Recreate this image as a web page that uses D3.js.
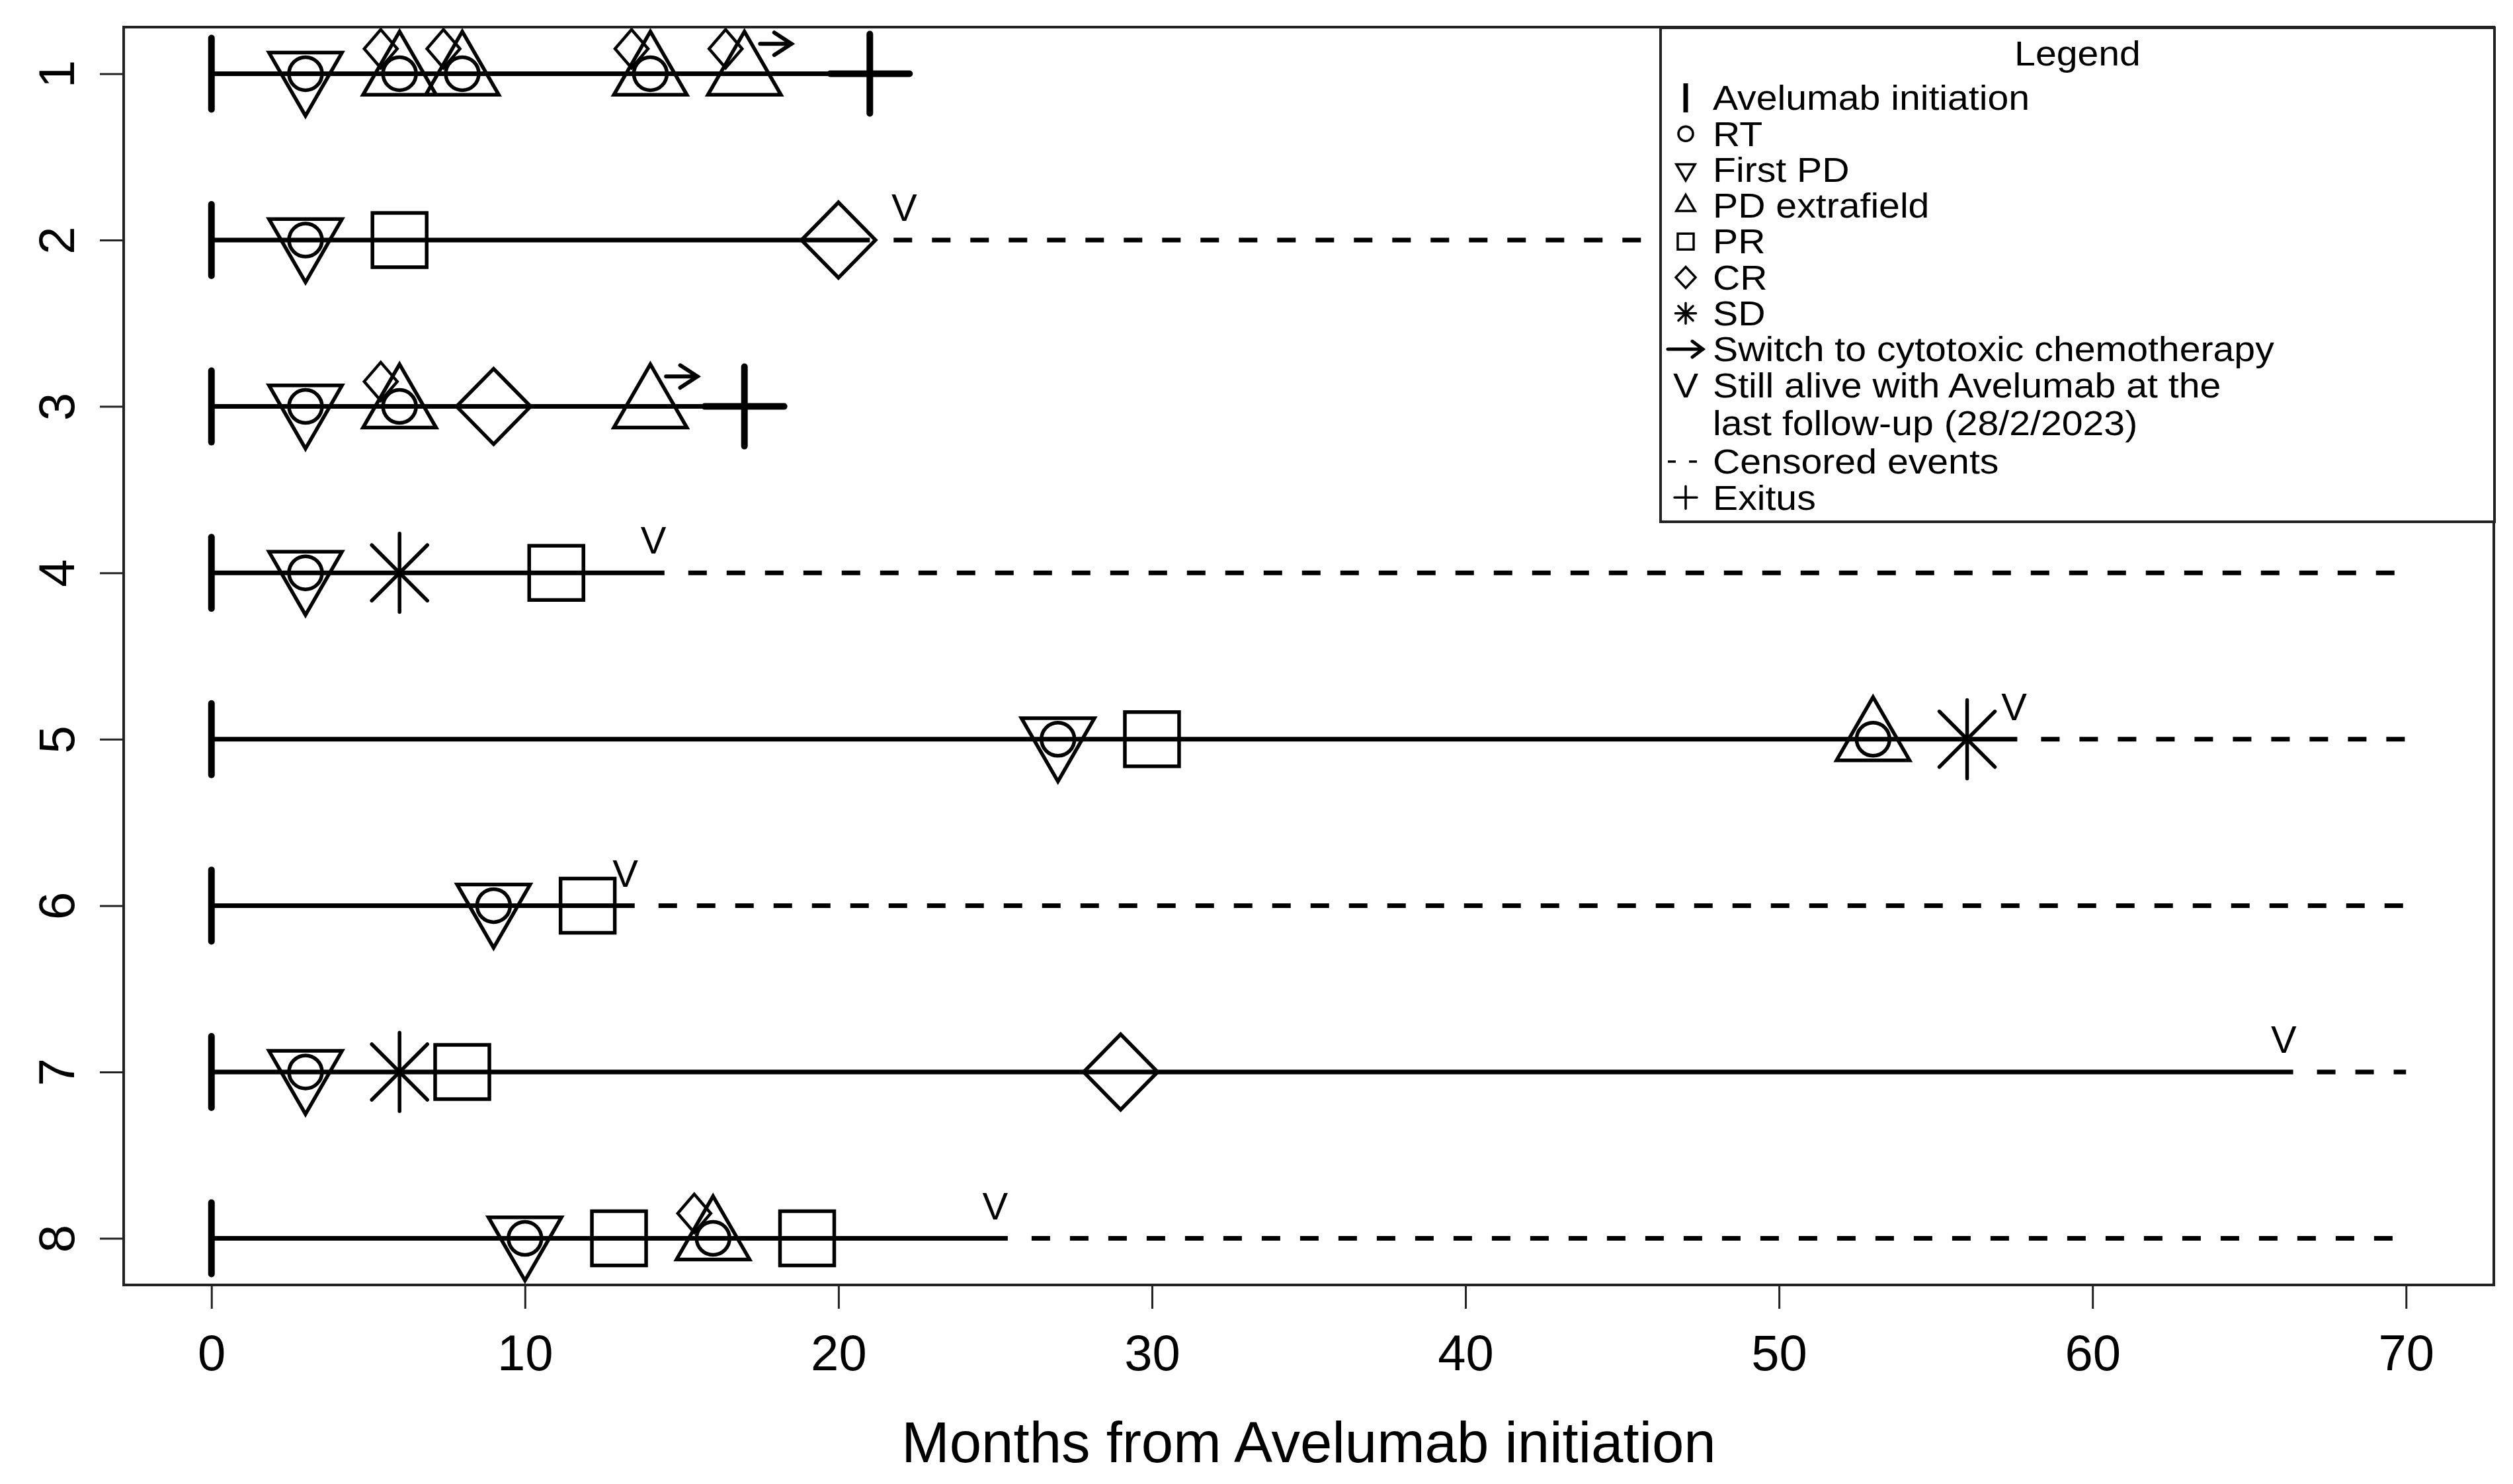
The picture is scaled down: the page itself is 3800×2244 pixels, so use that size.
<!DOCTYPE html>
<html>
<head>
<meta charset="utf-8">
<script src="https://cdn.jsdelivr.net/npm/d3@7"></script>
<style>
  body { margin: 0; background: #fff; }
  svg { display: block; }
  text { font-family: "Liberation Sans", Arial, Helvetica, sans-serif; fill: #000; }
</style>
</head>
<body>
<div id="chart"></div>
<script>
// ---- data (months from Avelumab initiation) ----
const patients = [1, 2, 3, 4, 5, 6, 7, 8];
const xTicks = [0, 10, 20, 30, 40, 50, 60, 70];
const solidEnd = [21, 21, 17, 14.45, 57.6, 13.5, 66.4, 25.4];
const censoredTo = [null, 70, null, 70, 70, 70, 70, 70];

// [patient, month]
const rtEvents = [[1, 3], [1, 6], [1, 8], [1, 14], [2, 3], [3, 3], [3, 6], [4, 3],
                  [5, 27], [5, 53], [6, 9], [7, 3], [8, 10], [8, 16]];
const firstPD = [[1, 3], [2, 3], [3, 3], [4, 3], [5, 27], [6, 9], [7, 3], [8, 10]];
const pdExtrafield = [[1, 6], [1, 8], [1, 14], [1, 17], [3, 6], [3, 14], [5, 53], [8, 16]];
const prEvents = [[2, 6], [4, 11], [5, 30], [6, 12], [7, 8], [8, 13], [8, 19]];
const crEvents = [[2, 20], [3, 9], [7, 29]];
const crSmall = [[1, 5.4], [1, 7.4], [1, 13.4], [1, 16.4], [3, 5.4], [8, 15.4]];
const sdEvents = [[4, 6], [5, 56], [7, 6]];
const switchChemo = [[1, 17.5], [3, 14.5]];
const exitus = [[1, 21], [3, 17]];
const stillAlive = [[2, 22.1], [4, 14.1], [5, 57.5], [6, 13.2], [7, 66.1], [8, 25.0]];

const legendKeys = ['init', 'circle', 'down', 'up', 'square', 'diamond', 'asterisk',
                    'arrow', 'V', 'dash', 'plus'];
const legendLabels = ['Avelumab initiation', 'RT', 'First PD', 'PD extrafield', 'PR', 'CR', 'SD',
                      'Switch to cytotoxic chemotherapy',
                      ['Still alive with Avelumab at the', 'last follow-up (28/2/2023)'],
                      'Censored events', 'Exitus'];

// ---- layout ----
const W = 3800, H = 2244;
const plot = { left: 187, right: 3771, top: 41, bottom: 1943 };

const svg = d3.select('#chart').append('svg')
  .attr('width', W).attr('height', H)
  .attr('viewBox', `0 0 ${W} ${H}`);

svg.append('rect').attr('width', W).attr('height', H).attr('fill', '#fff');

const x = d3.scaleLinear().domain([-2.8, 72.8]).range([plot.left, plot.right]);
const y = d3.scaleLinear().domain([0.72, 8.28]).range([plot.top, plot.bottom]);

// path builders, shapes sized like R's pch glyphs
const shapes = {
  circle: (cx, cy, r) => `M${cx - r},${cy}a${r},${r} 0 1,0 ${2 * r},0a${r},${r} 0 1,0 ${-2 * r},0Z`,
  up: (cx, cy, s) => {
    const r = 1.5551 * s, xc = 1.3468 * s, yc = 0.7776 * s;
    return `M${cx},${cy - r}L${cx + xc},${cy + yc}L${cx - xc},${cy + yc}Z`;
  },
  down: (cx, cy, s) => {
    const r = 1.5551 * s, xc = 1.3468 * s, yc = 0.7776 * s;
    return `M${cx},${cy + r}L${cx + xc},${cy - yc}L${cx - xc},${cy - yc}Z`;
  },
  square: (cx, cy, h) => `M${cx - h},${cy - h}H${cx + h}V${cy + h}H${cx - h}Z`,
  diamond: (cx, cy, hw, hh) => `M${cx},${cy - hh}L${cx + hw},${cy}L${cx},${cy + hh}L${cx - hw},${cy}Z`,
  asterisk: (cx, cy, d) => {
    const v = d * Math.SQRT2;
    return `M${cx - d},${cy - d}L${cx + d},${cy + d}M${cx - d},${cy + d}L${cx + d},${cy - d}` +
           `M${cx},${cy - v}L${cx},${cy + v}M${cx - v},${cy}L${cx + v},${cy}`;
  },
  plus: (cx, cy, p) => `M${cx - p},${cy}L${cx + p},${cy}M${cx},${cy - p}L${cx},${cy + p}`,
  bar: (cx, cy, h) => `M${cx},${cy - h}L${cx},${cy + h}`,
  arrow: (x1, x2, cy, hl, hw) => `M${x1},${cy}L${x2},${cy}M${x2 - hl},${cy - hw}L${x2},${cy}L${x2 - hl},${cy + hw}`
};

const g = svg.append('g').attr('class', 'marks');

// timeline lines
g.selectAll('.solid').data(patients).join('line')
  .attr('class', 'solid')
  .attr('x1', x(0)).attr('x2', (d, i) => x(solidEnd[i]))
  .attr('y1', d => y(d)).attr('y2', d => y(d))
  .attr('stroke', '#000').attr('stroke-width', 7);

g.selectAll('.censored').data(patients.filter((d, i) => censoredTo[i] !== null)).join('line')
  .attr('class', 'censored')
  .attr('x1', d => x(solidEnd[d - 1]) + 6).attr('x2', d => x(censoredTo[d - 1]))
  .attr('y1', d => y(d)).attr('y2', d => y(d))
  .attr('stroke', '#000').attr('stroke-width', 7)
  .attr('stroke-dasharray', '28 30').attr('stroke-dashoffset', 28);

// markers
function drawMarks(data, pathFn, width) {
  g.append('g').selectAll('path').data(data).join('path')
    .attr('d', pathFn)
    .attr('fill', 'none').attr('stroke', '#000')
    .attr('stroke-width', width)
    .attr('stroke-linecap', 'round').attr('stroke-linejoin', 'miter');
}

drawMarks(patients, d => shapes.bar(x(0), y(d), 54), 10);
drawMarks(firstPD, d => shapes.down(x(d[1]), y(d[0]), 41), 5.5);
drawMarks(pdExtrafield, d => shapes.up(x(d[1]), y(d[0]), 41), 5.5);
drawMarks(rtEvents, d => shapes.circle(x(d[1]), y(d[0]), 25), 5.5);
drawMarks(prEvents, d => shapes.square(x(d[1]), y(d[0]), 41), 5.5);
drawMarks(crEvents, d => shapes.diamond(x(d[1]), y(d[0]), 56, 57), 5.5);
drawMarks(crSmall, d => shapes.diamond(x(d[1]), y(d[0] - 0.15), 25, 29), 4.5);
drawMarks(sdEvents, d => shapes.asterisk(x(d[1]), y(d[0]), 42), 5.5);
drawMarks(switchChemo, d => shapes.arrow(x(d[1]), x(d[1] + 1), y(d[0] - 0.18), 26, 17), 6);
drawMarks(exitus, d => shapes.plus(x(d[1]), y(d[0]), 60), 10);

g.append('g').selectAll('text').data(stillAlive).join('text')
  .attr('x', d => x(d[1])).attr('y', d => y(d[0] - 0.195))
  .attr('dy', '0.35em')
  .attr('text-anchor', 'middle')
  .attr('font-size', 58)
  .text('V');

// axes
const xAxis = svg.append('g')
  .attr('transform', `translate(0,${plot.bottom})`)
  .call(d3.axisBottom(x).tickValues(xTicks).tickSize(36).tickFormat(d3.format('d')));
xAxis.select('.domain').remove();
xAxis.selectAll('line').attr('stroke', '#222').attr('stroke-width', 3);
xAxis.selectAll('text')
  .attr('y', 102).attr('dy', '0.35em')
  .attr('font-size', 76)
  .attr('font-family', '"Liberation Sans", Arial, sans-serif');

const yAxis = svg.append('g')
  .attr('transform', `translate(${plot.left},0)`)
  .call(d3.axisLeft(y).tickValues(patients).tickSize(36));
yAxis.select('.domain').remove();
yAxis.selectAll('line').attr('stroke', '#222').attr('stroke-width', 3);
yAxis.selectAll('text')
  .attr('x', 0).attr('y', -102).attr('dy', '0.35em')
  .attr('text-anchor', 'middle')
  .attr('transform', 'rotate(-90)')
  .attr('font-size', 76)
  .attr('font-family', '"Liberation Sans", Arial, sans-serif');

svg.append('text')
  .attr('x', (plot.left + plot.right) / 2).attr('y', 2181)
  .attr('dy', '0.35em')
  .attr('text-anchor', 'middle')
  .attr('font-size', 87)
  .text('Months from Avelumab initiation');

// plot box
svg.append('rect')
  .attr('x', plot.left).attr('y', plot.top)
  .attr('width', plot.right - plot.left).attr('height', plot.bottom - plot.top)
  .attr('fill', 'none').attr('stroke', '#222').attr('stroke-width', 4);

// legend (text slightly widened so lines stay inside their row height)
const lg = { left: 2511, right: 3772, top: 42, bottom: 789, symX: 2549, textX: 2590,
             y0: 148, step: 54.3, fs: 52, stretch: 1.1 };
const legend = svg.append('g').attr('class', 'legend');
legend.append('rect')
  .attr('x', lg.left).attr('y', lg.top)
  .attr('width', lg.right - lg.left).attr('height', lg.bottom - lg.top)
  .attr('fill', '#fff').attr('stroke', '#222').attr('stroke-width', 4);

legend.append('text')
  .attr('transform', `translate(${(lg.left + lg.right) / 2},81) scale(${lg.stretch},1)`)
  .attr('dy', '0.35em')
  .attr('text-anchor', 'middle').attr('font-size', lg.fs)
  .text('Legend');

const slotY = i => lg.y0 + lg.step * (i <= 8 ? i : i + 1.13);
const sx = lg.symX;
const legendSymbol = {
  init: cy => ({ d: shapes.bar(sx, cy, 22), w: 7 }),
  circle: cy => ({ d: shapes.circle(sx, cy, 11), w: 3.5 }),
  down: cy => ({ d: shapes.down(sx, cy, 10.5), w: 3.5 }),
  up: cy => ({ d: shapes.up(sx, cy, 10.5), w: 3.5 }),
  square: cy => ({ d: shapes.square(sx, cy, 12), w: 3.5 }),
  diamond: cy => ({ d: shapes.diamond(sx, cy, 15, 16), w: 3.5 }),
  asterisk: cy => ({ d: shapes.asterisk(sx, cy, 11), w: 3.5 }),
  arrow: cy => ({ d: shapes.arrow(2522, 2575, cy, 16, 12), w: 5 }),
  plus: cy => ({ d: shapes.plus(sx, cy, 17), w: 3.5 })
};

const items = legend.selectAll('.item').data(legendKeys).join('g').attr('class', 'item');
items.each(function (key, i) {
  const item = d3.select(this);
  const cy = slotY(i);
  if (key === 'V') {
    item.append('text').attr('transform', `translate(${sx},${cy}) scale(${lg.stretch},1)`)
      .attr('dy', '0.35em')
      .attr('text-anchor', 'middle').attr('font-size', lg.fs).text('V');
  } else if (key === 'dash') {
    item.append('line').attr('x1', 2522).attr('x2', 2568).attr('y1', cy).attr('y2', cy)
      .attr('stroke', '#000').attr('stroke-width', 3.5).attr('stroke-dasharray', '12 20');
  } else {
    const s = legendSymbol[key](cy);
    item.append('path').attr('d', s.d).attr('fill', 'none').attr('stroke', '#000')
      .attr('stroke-width', s.w).attr('stroke-linecap', key === 'init' ? 'butt' : 'round');
  }
  const lines = Array.isArray(legendLabels[i]) ? legendLabels[i] : [legendLabels[i]];
  lines.forEach((t, j) => {
    item.append('text')
      .attr('transform', `translate(${lg.textX},${cy + j * 57}) scale(${lg.stretch},1)`)
      .attr('dy', '0.35em')
      .attr('font-size', lg.fs).text(t);
  });
});
</script>
</body>
</html>
